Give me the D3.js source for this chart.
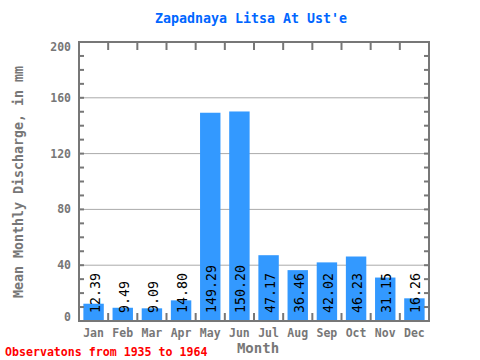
<!DOCTYPE html>
<html><head><meta charset="utf-8">
<script src="https://cdn.jsdelivr.net/npm/d3@7"></script>
<style>body{margin:0;background:#fff}</style>
</head><body>
<svg id="c" width="480" height="360"></svg>
<script>
const months = ["Jan","Feb","Mar","Apr","May","Jun","Jul","Aug","Sep","Oct","Nov","Dec"];
const values = [12.39,9.49,9.09,14.80,149.29,150.20,47.17,36.46,42.02,46.23,31.15,16.26];
const yTicks = [0,40,80,120,160,200];
const title = "Zapadnaya Litsa At Ust'e";
const yLabel = "Mean Monthly Discharge, in mm";
const xLabel = "Month";
const note = "Observatons from 1935 to 1964";

const svg = d3.select("#c");
const L=79, R=429, T=42, B=321;
const font = "'DejaVu Sans Mono', monospace";
const gray = "#777";
const x = d3.scaleBand().domain(months).range([L,R]).paddingInner(0.3).paddingOuter(0.15);
const xb = d3.scaleBand().domain(months).range([L,R]);
const y = d3.scaleLinear().domain([0,200]).range([B,T]);

// grid
svg.append("g").selectAll("line").data(yTicks.filter(d=>d>0&&d<200)).join("line")
  .attr("x1",L).attr("x2",R).attr("y1",d=>y(d)).attr("y2",d=>y(d))
  .attr("stroke","#aaa").attr("stroke-width",1);

// bars
svg.append("g").selectAll("rect").data(values).join("rect")
  .attr("x",(d,i)=>x(months[i])).attr("width",x.bandwidth())
  .attr("y",d=>y(d)).attr("height",d=>B-y(d)).attr("fill","#3399ff");

// value labels
svg.append("g").selectAll("text").data(values).join("text")
  .attr("transform",(d,i)=>`translate(${x(months[i])+x.bandwidth()/2+6},${B-8}) rotate(-90)`)
  .attr("font-family",font).attr("font-size",13.3).attr("fill","#000")
  .text(d=>d.toFixed(2));

// ticks
const minor = d3.range(0,201,10);
const tg = svg.append("g").attr("stroke",gray).attr("stroke-width",2);
tg.selectAll(".lt").data(minor).join("line").attr("x1",L).attr("x2",L+5).attr("y1",d=>y(d)).attr("y2",d=>y(d));
tg.selectAll(".rt").data(minor).join("line").attr("x1",R).attr("x2",R-5).attr("y1",d=>y(d)).attr("y2",d=>y(d));
const bounds = months.map(m=>xb(m)).concat([R]);
tg.selectAll(".tt").data(bounds).join("line").attr("x1",d=>d).attr("x2",d=>d).attr("y1",T).attr("y2",T+8);
tg.selectAll(".bt").data(bounds).join("line").attr("x1",d=>d).attr("x2",d=>d).attr("y1",B-8).attr("y2",B);

// frame
svg.append("rect").attr("x",L).attr("y",T).attr("width",R-L).attr("height",B-T)
  .attr("fill","none").attr("stroke",gray).attr("stroke-width",2);

// y tick labels
svg.append("g").selectAll("text").data(yTicks).join("text")
  .attr("x",L-8).attr("y",d=>Math.max(T+5,Math.min(B-4,y(d)))+4).attr("text-anchor","end")
  .attr("font-family",font).attr("font-size",11.5).attr("font-weight","bold").attr("fill",gray)
  .text(d=>d);

// x tick labels
svg.append("g").selectAll("text").data(months).join("text")
  .attr("x",m=>xb(m)+xb.bandwidth()/2).attr("y",B+16).attr("text-anchor","middle")
  .attr("font-family",font).attr("font-size",11.5).attr("font-weight","bold").attr("fill",gray)
  .text(m=>m);

svg.append("text").attr("x",251).attr("y",23).attr("text-anchor","middle")
  .attr("font-family",font).attr("font-size",13.3).attr("font-weight","bold").attr("fill","#0066ff").text(title);
svg.append("text").attr("x",258).attr("y",353).attr("text-anchor","middle")
  .attr("font-family",font).attr("font-size",14).attr("font-weight","bold").attr("fill",gray).text(xLabel);
svg.append("text").attr("transform","translate(23,182) rotate(-90)").attr("text-anchor","middle")
  .attr("font-family",font).attr("font-size",13.3).attr("font-weight","bold").attr("fill",gray).text(yLabel);
svg.append("text").attr("x",5).attr("y",356)
  .attr("font-family",font).attr("font-size",11.6).attr("font-weight","bold").attr("fill","red").text(note);
</script>
</body></html>
